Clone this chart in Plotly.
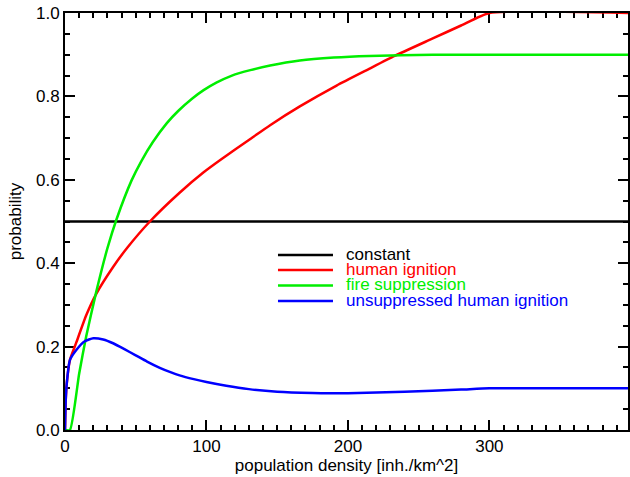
import plotly.graph_objects as go

FONT = "Liberation Sans, Arial, Helvetica, sans-serif"

# ---- data ----
x_const = [0, 398]
y_const = [0.5, 0.5]

x_red = [0, 0.5, 1.2, 3.5, 8, 15, 22, 34, 44, 60, 81, 98, 110, 131, 145, 166, 192, 215, 233, 260, 280, 300, 398]
y_red = [0, 0.07, 0.11, 0.168, 0.21, 0.275, 0.326, 0.391, 0.437, 0.5, 0.569, 0.618, 0.648, 0.698,
         0.731, 0.776, 0.826, 0.866, 0.897, 0.939, 0.970, 1.0, 1.0]

x_green = [0, 3.5, 10, 15, 22, 30, 36.5, 47, 54, 62, 72, 80, 90, 98, 107, 118, 131, 145, 166, 190,
           215, 260, 300, 398]
y_green = [0, 0, 0.135, 0.225, 0.33, 0.436, 0.506, 0.598, 0.645, 0.69, 0.736, 0.765, 0.795, 0.815,
           0.833, 0.85, 0.863, 0.874, 0.886, 0.893, 0.897, 0.9, 0.9, 0.9]

x_blue = [0, 0.5, 1.2, 3.5, 8, 14, 20, 27, 34, 42, 50, 58, 67, 75, 81, 91, 100, 114, 130, 150, 175,
          200, 240, 280, 300, 398]
y_blue = [0, 0.07, 0.11, 0.168, 0.192, 0.213, 0.22, 0.217, 0.208, 0.194, 0.179, 0.164, 0.149, 0.138,
          0.131, 0.122, 0.115, 0.106, 0.098, 0.092, 0.089, 0.088, 0.092, 0.097, 0.1, 0.1]

names = ["constant", "human ignition", "fire suppression", "unsuppressed human ignition"]
colors = ["#000000", "#ff0000", "#00ee00", "#0000ff"]

x_ticks = [0, 100, 200, 300]
y_ticks = [0.0, 0.2, 0.4, 0.6, 0.8, 1.0]

fig = go.Figure()
series = [(x_const, y_const), (x_red, y_red), (x_green, y_green), (x_blue, y_blue)]
for (xs, ys), nm, col in zip(series, names, colors):
    fig.add_trace(go.Scatter(x=xs, y=ys, mode="lines", name=nm,
                             line=dict(color=col, width=2.5, shape="spline", smoothing=0.5),
                             showlegend=False))

# manual legend (line swatch + coloured label)
leg_y = [0.4197, 0.3837, 0.3465, 0.3094]
for nm, col, yy in zip(names, colors, leg_y):
    fig.add_shape(type="line", xref="paper", yref="paper", x0=0.3783, x1=0.476, y0=yy, y1=yy,
                  line=dict(color=col, width=2.5))
    fig.add_annotation(xref="paper", yref="paper", x=0.4973, y=yy + 0.002, text=nm, showarrow=False,
                       xanchor="left", yanchor="middle", borderpad=0,
                       font=dict(family=FONT, size=17, color=col))

axis_common = dict(showline=True, linecolor="black", linewidth=2, mirror="allticks",
                   ticks="inside", ticklen=10, tickwidth=1.5, tickcolor="black",
                   showgrid=False, zeroline=False,
                   tickfont=dict(family=FONT, size=17, color="black"),
                   layer="below traces")

fig.update_xaxes(range=[0, 398], tickvals=x_ticks, ticktext=[str(v) for v in x_ticks],
                 minor=dict(dtick=10, ticks="inside", ticklen=5, tickwidth=1.5, tickcolor="black"),
                 title=dict(text="population density [inh./km^2]", font=dict(family=FONT, size=17, color="black"),
                            standoff=2),
                 **axis_common)
fig.update_yaxes(range=[0, 1.0], tickvals=y_ticks, ticktext=[f"{v:.1f}" for v in y_ticks],
                 minor=dict(dtick=0.05, ticks="inside", ticklen=5, tickwidth=1.5, tickcolor="black"),
                 title=dict(text="probability", font=dict(family=FONT, size=17, color="black"),
                            standoff=10),
                 **axis_common)

fig.update_layout(width=630, height=477, margin=dict(l=65, r=2, t=13, b=47, autoexpand=False),
                  paper_bgcolor="white", plot_bgcolor="white", showlegend=False,
                  font=dict(family=FONT, size=17, color="black"))

fig.write_html("out.html", config={"displayModeBar": False},
               post_script="document.body.style.margin='0';")
